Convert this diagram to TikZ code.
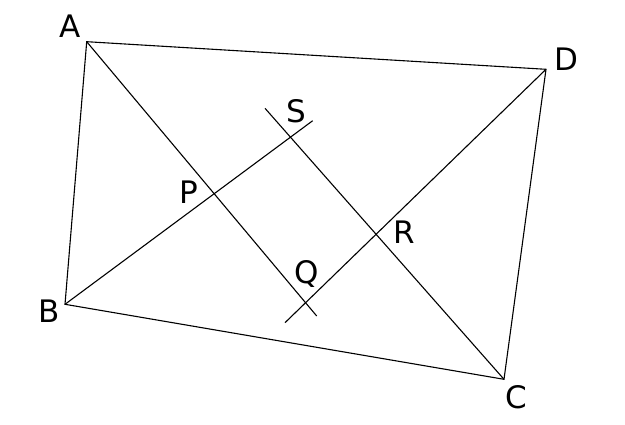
\documentclass[tikz,border=0pt]{standalone}
\usepackage{fontspec}
\setmainfont{DejaVu Sans}
\begin{document}
\begin{tikzpicture}[x=1pt,y=-1pt,
  edge/.style={line width=1.1pt,line join=miter},
  lbl/.style={anchor=base,inner sep=0pt,font=\fontsize{31}{36}\selectfont}]
\useasboundingbox (0,0) rectangle (625,425);
\coordinate (A) at (86.7,41.7);
\coordinate (D) at (546,69.3);
\coordinate (C) at (504,379.3);
\coordinate (B) at (65,304.3);
\coordinate (Aend) at (316.7,316);
\coordinate (Cend) at (265,108.3);
\coordinate (Bend) at (312.7,120.7);
\coordinate (Dend) at (285,322.7);
\draw[edge] (A) -- (D) -- (C) -- (B) -- cycle;
\draw[edge] (A) -- (Aend);
\draw[edge] (C) -- (Cend);
\draw[edge] (B) -- (Bend);
\draw[edge] (D) -- (Dend);
\node[lbl] (lA) at (70,37.7) {A};
\node[lbl] (lD) at (566,70.7) {D};
\node[lbl] (lC) at (516,408) {C};
\node[lbl] (lB) at (49,322.7) {B};
\node[lbl] (lS) at (296,123) {S};
\node[lbl] (lQ) at (306.5,284) {Q};
\node[lbl] (lR) at (404.5,243.3) {R};
\node[lbl] (lP) at (188.5,203.3) {P};
\end{tikzpicture}
\end{document}
